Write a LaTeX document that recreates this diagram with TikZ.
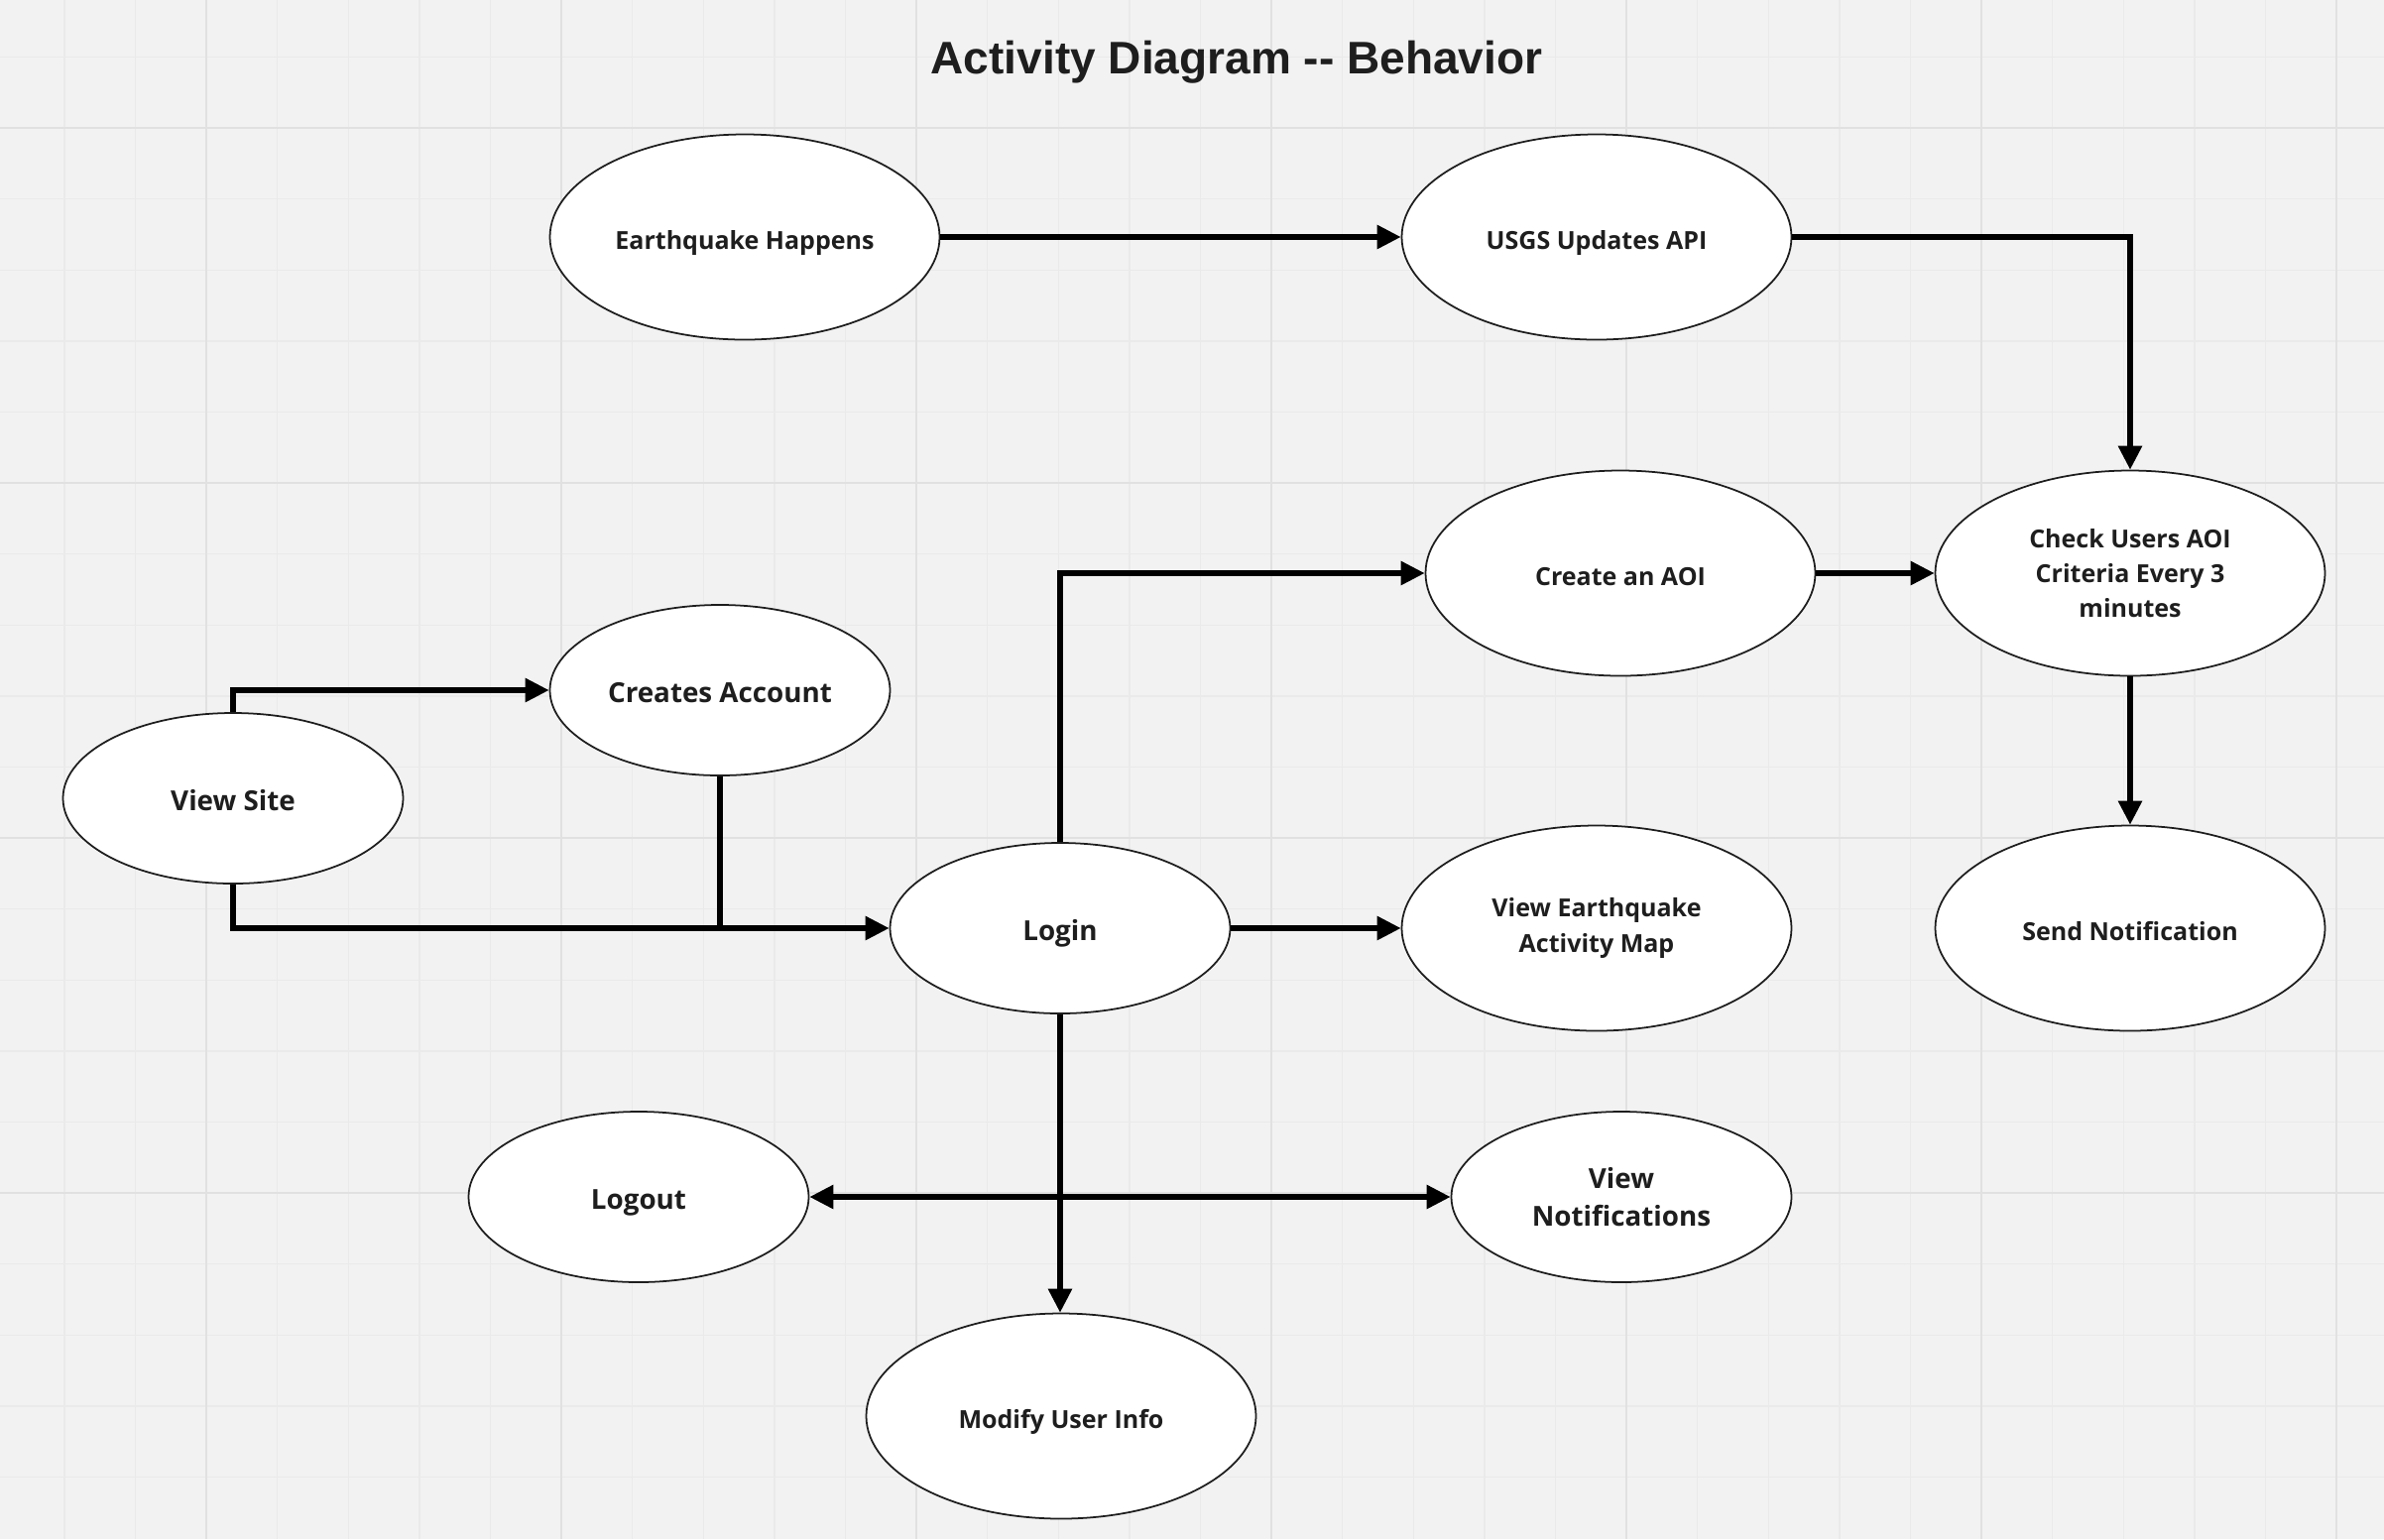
\documentclass[tikz,border=0pt]{standalone}
\usepackage{fontspec}
\setmainfont{Open Sans}
\newfontfamily\titlefont{Liberation Sans}
\usetikzlibrary{shapes.geometric,arrows.meta}
\definecolor{paper}{HTML}{F2F2F2}
\definecolor{gridminor}{HTML}{EAEAEA}
\definecolor{gridmajor}{HTML}{E1E1E1}
\definecolor{ink}{HTML}{1E1E1E}

\begin{document}
\begin{tikzpicture}[
        act/.style={ellipse, draw=ink, line width=0.5pt, fill=white, inner sep=0pt,
            text=ink, align=center, font=\bfseries\fontsize{7.12}{10}\selectfont,
            minimum width=3.93cm, minimum height=2.07cm},
        actsmall/.style={act, font=\bfseries\fontsize{7.9}{10.9}\selectfont,
            minimum width=3.43cm, minimum height=1.72cm},
        oneline/.style={text height=1.6ex, text depth=0.25ex},
        wire/.style={line width=1.45pt, draw=black},
        flow/.style={wire, -{Triangle[length=6.8pt,width=6.6pt]}},
        twoway/.style={wire, {Triangle[length=6.8pt,width=6.6pt]}-{Triangle[length=6.8pt,width=6.6pt]}}
    ]
        \useasboundingbox (0,0) rectangle (24.04,-15.52);
        \fill[paper] (0,0) rectangle (24.04,-15.52);
        % board grid
        \foreach \i in {0,...,32} {
            \draw[gridminor, line width=0.4pt] ({0.648+0.716*\i},0) -- ++(0,-15.52);
        }
        \foreach \j in {0,...,20} {
            \draw[gridminor, line width=0.4pt] (0,{-0.574-0.716*\j}) -- ++(24.04,0);
        }
        \foreach \x in {2.08,5.66,9.24,12.82,16.40,19.98,23.56} {
            \draw[gridmajor, line width=0.6pt] (\x,0) -- ++(0,-15.52);
        }
        \foreach \y in {1.29,4.87,8.45,12.03} {
            \draw[gridmajor, line width=0.6pt] (0,-\y) -- ++(24.04,0);
        }

        \node[font=\titlefont\bfseries\fontsize{13.1}{15}\selectfont, text=ink] (title) at (12.47,-0.63) {Activity Diagram -{}- Behavior};

        \node[act, oneline] (quake) at (7.51,-2.39) {Earthquake Happens};
        \node[act, oneline] (usgs) at (16.10,-2.39) {USGS Updates API};
        \node[act, oneline] (aoi) at (16.34,-5.78) {Create an AOI};
        \node[act] (check) at (21.48,-5.78) {Check Users AOI\\Criteria Every 3\\minutes};
        \node[act, oneline] (notify) at (21.48,-9.36) {Send Notification};
        \node[actsmall, oneline] (account) at (7.26,-6.96) {Creates Account};
        \node[actsmall, oneline] (site) at (2.35,-8.05) {View Site};
        \node[actsmall, oneline] (login) at (10.69,-9.36) {Login};
        \node[act] (map) at (16.10,-9.36) {View Earthquake\\Activity Map};
        \node[actsmall, oneline] (logout) at (6.44,-12.07) {Logout};
        \node[actsmall] (notes) at (16.35,-12.07) {View\\Notifications};
        \node[act, oneline] (modify) at (10.70,-14.28) {Modify User Info};

        \draw[flow] (quake) -- (usgs);
        \draw[flow] (usgs.east) -| (check.north);
        \draw[flow] (aoi) -- (check);
        \draw[flow] (check) -- (notify);
        \draw[flow] (site.north) |- (account.west);
        \draw[flow] (site.south) |- (login.west);
        \draw[wire] (account.south) -- (account.south |- login.west);
        \draw[flow] (login.north) |- (aoi.west);
        \draw[flow] (login) -- (map);
        \draw[twoway] (logout) -- (notes);
        \draw[flow] (login.south) -- (login.south |- modify.north);
\end{tikzpicture}
\end{document}
